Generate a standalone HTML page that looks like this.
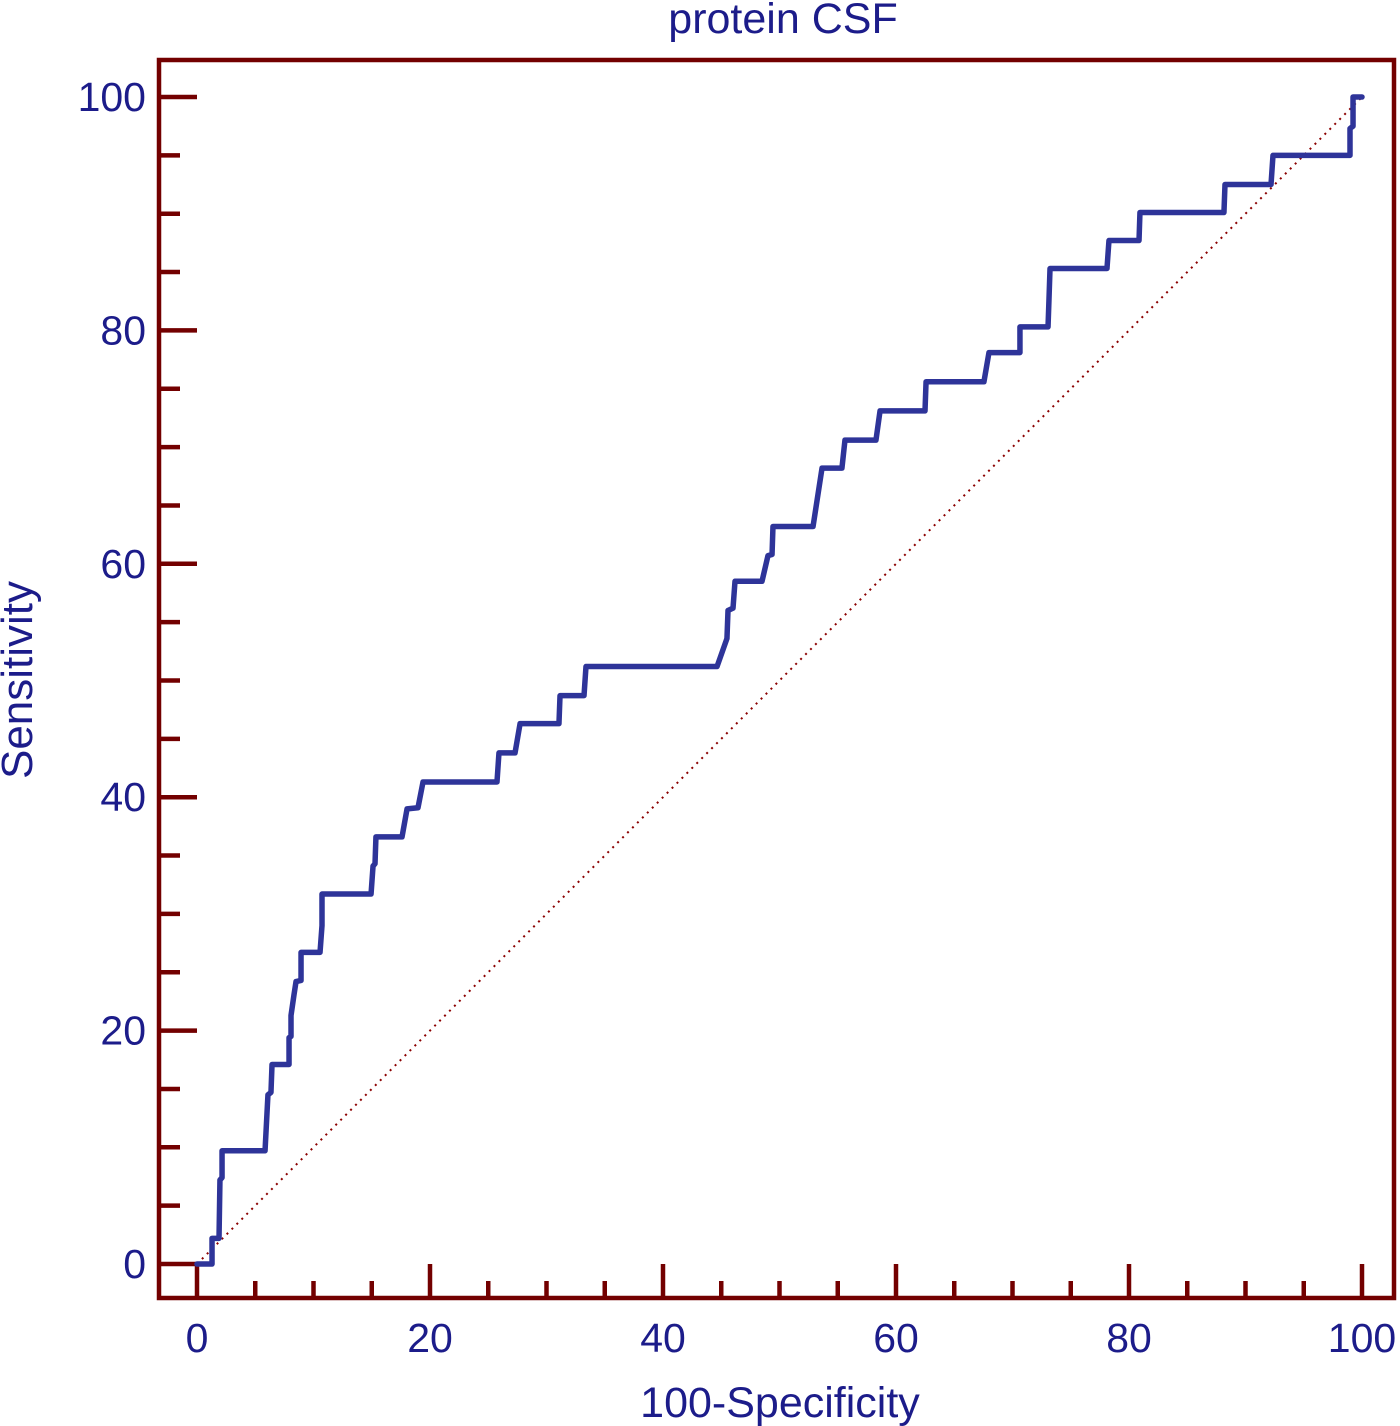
<!DOCTYPE html>
<html><head><meta charset="utf-8"><style>
html,body{margin:0;padding:0;background:#fff;}
svg{display:block;font-family:"Liberation Sans",Arial,sans-serif;}
</style></head><body>
<svg id="chart" width="1400" height="1426" viewBox="0 0 1400 1426">
<text x="783" y="33" font-size="43" fill="#1c1c8a" text-anchor="middle">protein CSF</text>
<rect x="159" y="60" width="1235" height="1238" fill="none" stroke="#730000" stroke-width="4.5"/>
<g id="ticks"></g>
<g id="labels"></g>
<line id="diag" stroke="#8b0000" stroke-width="2" stroke-dasharray="2,5"/>
<polyline id="roc" fill="none" stroke="#2e3499" stroke-width="5.5" stroke-linejoin="round" stroke-linecap="round"/>
<text x="780" y="1417" font-size="43" fill="#1c1c8a" text-anchor="middle">100-Specificity</text>
<text transform="translate(32,680) rotate(-90)" font-size="44" fill="#1c1c8a" text-anchor="middle">Sensitivity</text>
</svg>
<script>
const xTickLabels=[0,20,40,60,80,100];
const yTickLabels=[0,20,40,60,80,100];
const rocX=[0,1.29,1.29,1.89,1.97,2.15,2.15,5.84,6.09,6.35,6.44,7.90,7.90,8.07,8.07,8.33,8.50,8.93,8.93,10.56,10.73,10.73,14.94,15.11,15.28,15.36,17.60,18.03,18.97,19.40,25.75,25.92,27.30,27.73,31.07,31.16,33.22,33.39,44.64,45.49,45.58,46.01,46.18,48.50,49.01,49.36,49.44,52.88,53.65,55.36,55.62,58.28,58.63,62.49,62.58,67.55,67.98,70.64,70.64,73.05,73.13,73.22,78.11,78.28,80.86,80.94,88.15,88.24,92.19,92.36,98.97,98.97,99.23,99.23,100];
const rocY=[0,0,2.2,2.2,7.2,7.4,9.7,9.7,14.5,14.7,17.1,17.1,19.4,19.5,21.3,23.1,24.2,24.3,26.7,26.7,29.0,31.7,31.7,34.1,34.3,36.6,36.6,39.0,39.1,41.3,41.3,43.8,43.8,46.3,46.3,48.7,48.7,51.2,51.2,53.6,56.0,56.2,58.5,58.5,60.7,60.8,63.2,63.2,68.2,68.2,70.6,70.6,73.1,73.1,75.6,75.6,78.1,78.1,80.3,80.3,82.6,85.3,85.3,87.7,87.7,90.1,90.1,92.5,92.5,95.0,95.0,97.3,97.5,100,100];
const X=v=>197+v*11.65, Y=v=>1264-v*11.67;
const NS="http://www.w3.org/2000/svg";
const tg=document.getElementById('ticks'), lg=document.getElementById('labels');
function mk(tag,attrs,parent){const e=document.createElementNS(NS,tag);for(const k in attrs)e.setAttribute(k,attrs[k]);parent.appendChild(e);return e;}
for(let v=0;v<=100;v+=5){
  const major=v%20===0;
  const lx=mk('line',{x1:X(v),x2:X(v),y1:major?1264:1281,y2:1298,stroke:'#730000','stroke-width':4.5},tg);
  
  
  const ly=mk('line',{x1:159,x2:major?197:180,y1:Y(v),y2:Y(v),stroke:'#730000','stroke-width':4.5},tg);
  
  
}
xTickLabels.forEach(v=>{const t=mk('text',{x:X(v),y:1352,'font-size':41,fill:'#1c1c8a','text-anchor':'middle'},lg);t.textContent=v;
  
  });
yTickLabels.forEach(v=>{const t=mk('text',{x:146,y:Y(v)+14,'font-size':41,fill:'#1c1c8a','text-anchor':'end'},lg);t.textContent=v;
  
  });
const d=document.getElementById('diag');
d.setAttribute('x1',X(0));d.setAttribute('y1',Y(0));d.setAttribute('x2',X(100));d.setAttribute('y2',Y(100));
document.getElementById('roc').setAttribute('points',rocX.map((x,i)=>X(x)+','+Y(rocY[i])).join(' '));
</script>
</body></html>
